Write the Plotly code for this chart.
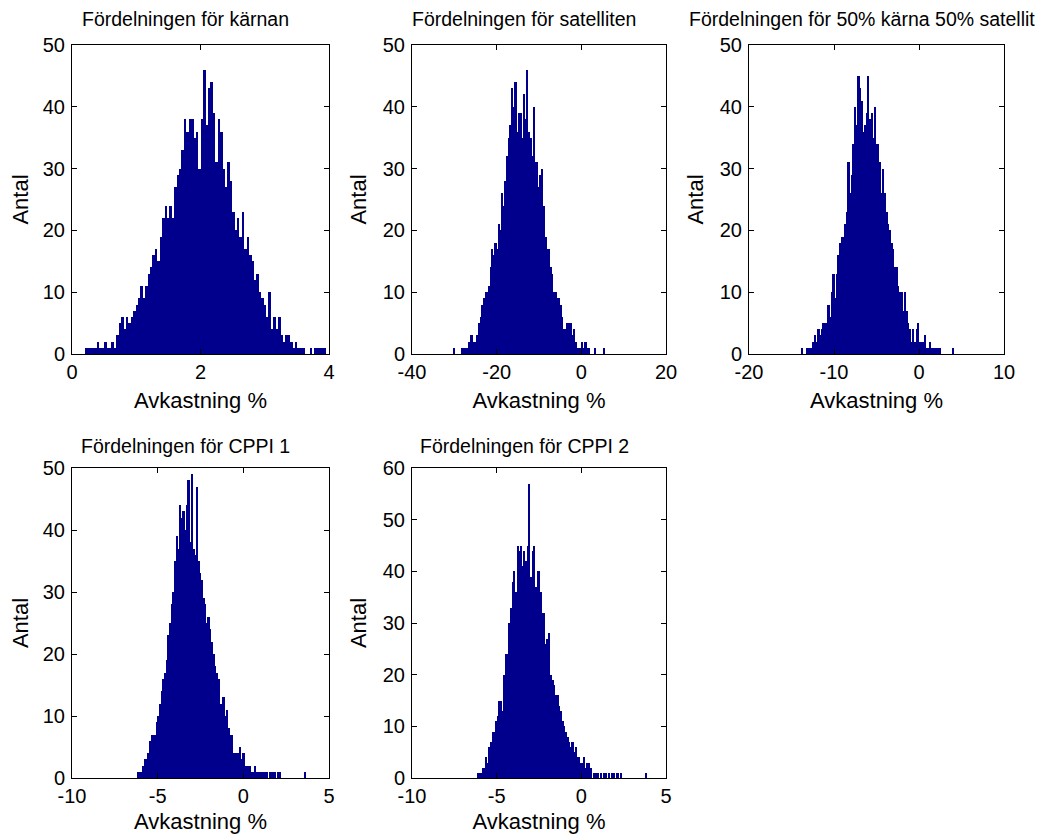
import plotly.graph_objects as go

# ---------------- data (histogram counts) ----------------
titles = ["Fördelningen för kärnan", "Fördelningen för satelliten",
          "Fördelningen för 50% kärna 50% satellit",
          "Fördelningen för CPPI 1", "Fördelningen för CPPI 2"]

# first bin left edge and bin width (in % units) for each panel
k_start, k_width = 0.2, 0.0376
k_counts = [1, 1, 1, 1, 1, 2, 1, 1, 2, 1,
            1, 2, 1, 3, 5, 6, 4, 6, 5, 6,
            7, 8, 9, 11, 9, 11, 13, 14, 16, 17,
            15, 19, 22, 24, 22, 24, 22, 27, 29, 30,
            33, 38, 36, 38, 38, 35, 36, 30, 38, 46,
            37, 43, 44, 39, 31, 38, 36, 30, 27, 31,
            28, 23, 20, 22, 19, 23, 17, 19, 16, 15,
            12, 13, 10, 9, 8, 6, 10, 4, 6, 4,
            6, 3, 2, 3, 3, 2, 1, 2, 1, 1,
            1, 0, 0, 1, 0, 1, 1, 1, 1, 1]

s_start, s_width = -30.22, 0.393
s_counts = [1, 0, 0, 0, 0, 1, 1, 1, 1, 2,
            3, 3, 2, 2, 3, 5, 6, 8, 9, 10,
            10, 11, 14, 17, 16, 18, 17, 21, 20, 26,
            24, 28, 32, 35, 37, 43, 40, 44, 36, 39,
            39, 35, 42, 38, 46, 36, 35, 32, 40, 31,
            31, 27, 29, 30, 24, 19, 17, 17, 14, 13,
            10, 10, 9, 9, 8, 6, 4, 4, 5, 5,
            5, 3, 4, 2, 1, 1, 1, 2, 1, 2,
            1, 1, 0, 0, 0, 1, 0, 0, 0, 0,
            1]

m_start, m_width = -13.84, 0.1955
m_counts = [1, 0, 0, 1, 1, 1, 1, 2, 3, 2,
            4, 3, 4, 5, 5, 5, 8, 6, 10, 13,
            9, 13, 16, 18, 19, 19, 21, 23, 31, 26,
            29, 34, 40, 37, 45, 43, 41, 36, 37, 39,
            45, 38, 39, 35, 40, 34, 34, 31, 26, 30,
            26, 23, 21, 20, 18, 17, 14, 14, 11, 10,
            10, 7, 10, 7, 5, 4, 2, 4, 2, 4,
            5, 2, 2, 2, 3, 1, 1, 2, 1, 1,
            1, 1, 1, 1, 0, 0, 0, 0, 0, 0,
            0, 1]

c1_start, c1_width = -6.158, 0.0973
c1_counts = [1, 1, 1, 2, 3, 3, 4, 6, 7, 7,
             7, 9, 10, 12, 14, 16, 17, 19, 23, 25,
             28, 30, 35, 39, 37, 44, 42, 43, 40, 44,
             48, 38, 49, 37, 36, 47, 35, 33, 32, 29,
             28, 25, 26, 24, 22, 20, 18, 17, 16, 12,
             12, 13, 10, 11, 8, 7, 7, 4, 4, 4,
             4, 5, 3, 4, 2, 2, 2, 2, 1, 1,
             2, 1, 1, 1, 1, 1, 1, 1, 0, 1,
             1, 1, 1, 0, 1, 1, 0, 0, 0, 0,
             0, 0, 0, 0, 0, 0, 0, 0, 0, 0,
             1]

c2_start, c2_width = -6.157, 0.0983
c2_counts = [1, 1, 1, 2, 2, 4, 3, 6, 7, 9,
             9, 11, 12, 15, 15, 13, 20, 24, 24, 30,
             33, 38, 40, 36, 45, 44, 45, 41, 44, 42,
             45, 57, 39, 44, 45, 37, 40, 40, 36, 32,
             32, 26, 27, 28, 20, 19, 18, 16, 16, 14,
             13, 11, 10, 9, 8, 7, 6, 7, 5, 6,
             4, 4, 3, 3, 4, 2, 3, 3, 2, 0,
             1, 1, 1, 0, 1, 0, 1, 1, 0, 1,
             0, 1, 1, 0, 1, 0, 1, 0, 0, 0,
             0, 0, 0, 0, 0, 0, 0, 0, 0, 0,
             0, 1]

x_ranges = [[0, 4], [-40, 20], [-20, 10], [-10, 5], [-10, 5]]
x_ticks = [[0, 2, 4], [-40, -20, 0, 20], [-20, -10, 0, 10], [-10, -5, 0, 5], [-10, -5, 0, 5]]
y_ranges = [[0, 50], [0, 50], [0, 50], [0, 50], [0, 60]]
y_ticks = [[0, 10, 20, 30, 40, 50]] * 4 + [[0, 10, 20, 30, 40, 50, 60]]
x_label = "Avkastning %"
y_label = "Antal"

# ---------------- figure ----------------
# the page body adds an 8 px margin, so the figure is shrunk and positions shifted by it
OFF = 8
W, H = 1055 - OFF, 834 - OFF
cols = [(72, 329), (412, 666), (749, 1004)]
rows = [(45, 354), (468, 778)]
title_centers = [19, 446]
TITLE_SHIFT = -15
cells = [(0, 0), (0, 1), (0, 2), (1, 0), (1, 1)]

series = [(k_start, k_width, k_counts), (s_start, s_width, s_counts),
          (m_start, m_width, m_counts), (c1_start, c1_width, c1_counts),
          (c2_start, c2_width, c2_counts)]

FONT = "Liberation Sans, Arial, Helvetica, sans-serif"
FS_TICK = 20
FS_LABEL = 22
FS_TITLE = 19.5
BAR = "rgb(0,0,140)"


def px(v):
    return (v - OFF) / W


def py(v):
    return 1 - (v - OFF) / H


fig = go.Figure()
layout = {}
annotations = []
for i, ((r, c), (start, width, counts)) in enumerate(zip(cells, series)):
    n = i + 1
    xa = "x" if n == 1 else f"x{n}"
    ya = "y" if n == 1 else f"y{n}"
    centers = [start + width * (j + 0.5) for j in range(len(counts))]
    fig.add_trace(go.Bar(x=centers, y=counts, width=[width] * len(counts),
                         marker=dict(color=BAR, line=dict(width=0)),
                         xaxis=xa, yaxis=ya, showlegend=False, hoverinfo="x+y"))
    x0, x1 = cols[c]
    y0, y1 = rows[r]
    common = dict(showline=True, linecolor="black", linewidth=1, mirror="ticks",
                  ticks="inside", ticklen=5, tickcolor="black", showgrid=False,
                  zeroline=False, tickfont=dict(family=FONT, size=FS_TICK, color="black"))
    layout["xaxis" if n == 1 else f"xaxis{n}"] = dict(
        domain=[px(x0), px(x1)], anchor=ya, range=x_ranges[i],
        tickvals=x_ticks[i], ticktext=[str(v) for v in x_ticks[i]],
        title=dict(text=x_label, font=dict(family=FONT, size=FS_LABEL, color="black"), standoff=10),
        **common)
    layout["yaxis" if n == 1 else f"yaxis{n}"] = dict(
        domain=[py(y1), py(y0)], anchor=xa, range=y_ranges[i],
        tickvals=y_ticks[i], ticktext=[str(v) for v in y_ticks[i]],
        ticklabelstandoff=2,
        title=dict(text=y_label, font=dict(family=FONT, size=FS_LABEL, color="black"), standoff=10),
        **common)
    annotations.append(dict(text=titles[i], xref="paper", yref="paper",
                            x=px((x0 + x1) / 2 + TITLE_SHIFT), y=py(title_centers[r]),
                            xanchor="center", yanchor="middle", showarrow=False,
                            font=dict(family=FONT, size=FS_TITLE, color="black")))

fig.update_layout(**layout)
fig.update_layout(width=W, height=H, margin=dict(l=0, r=0, t=0, b=0, autoexpand=False),
                  paper_bgcolor="white", plot_bgcolor="white", bargap=0,
                  annotations=annotations, font=dict(family=FONT, size=FS_TICK, color="black"))
fig.write_html("out.html")
